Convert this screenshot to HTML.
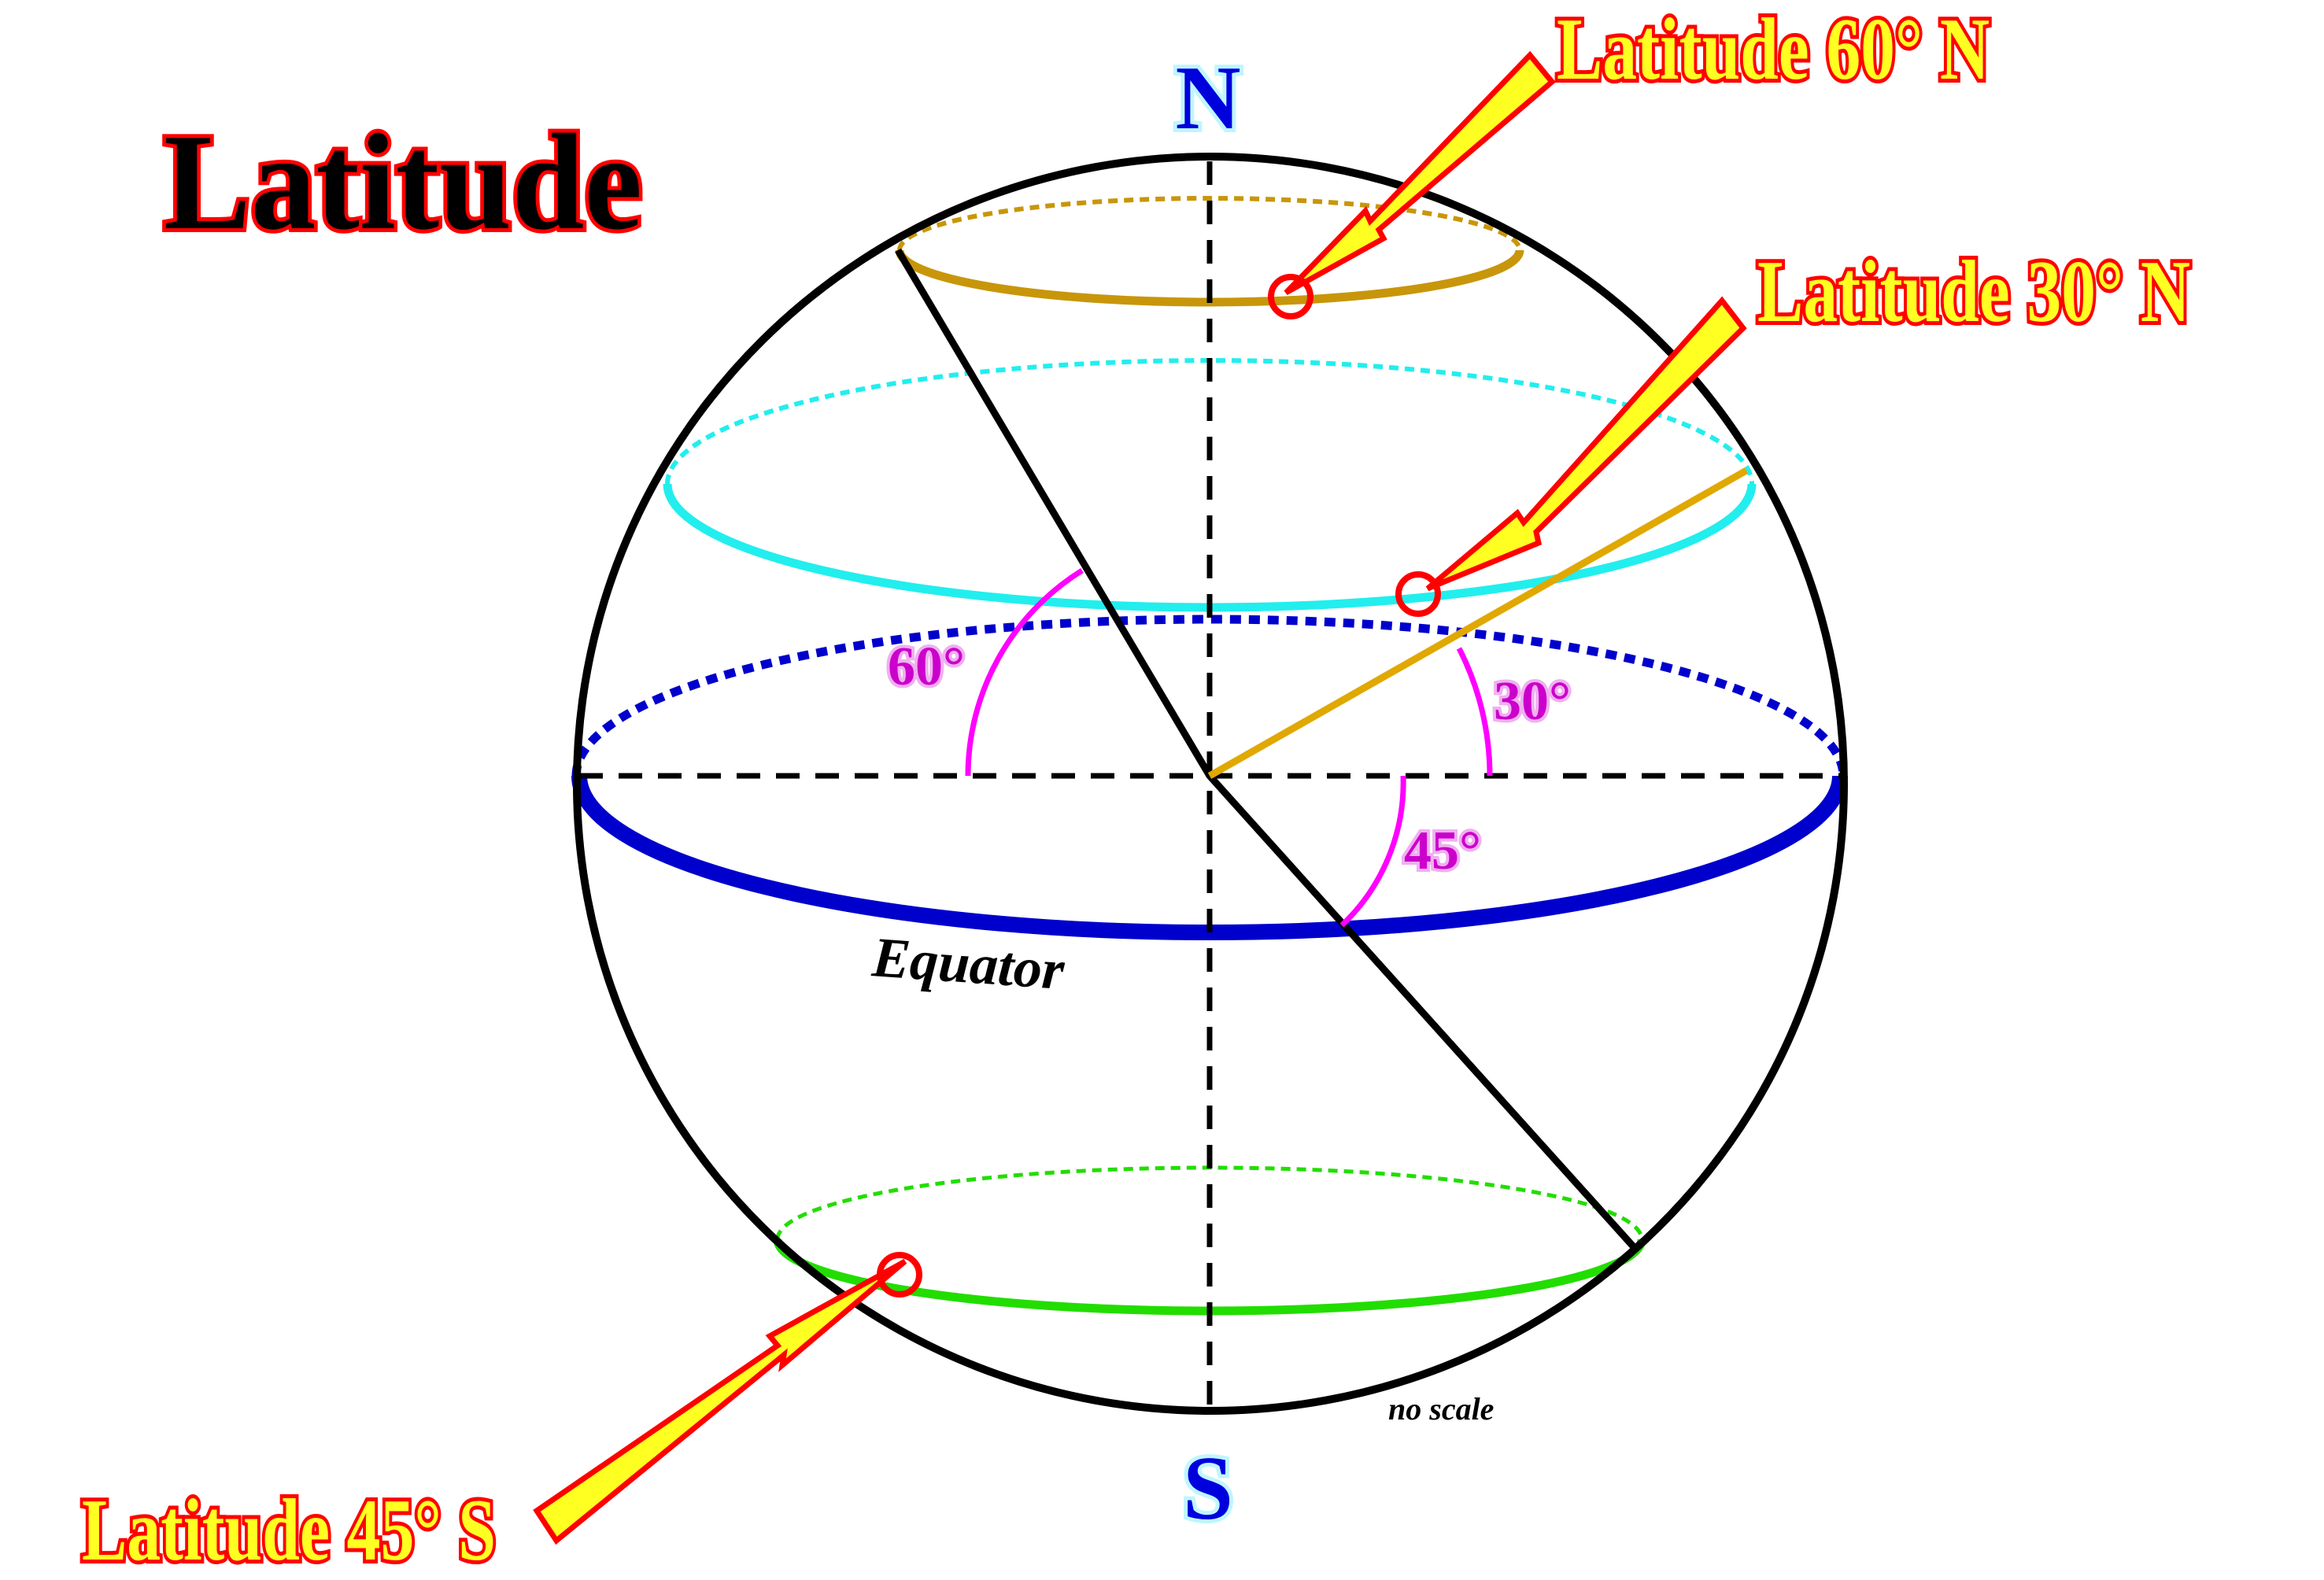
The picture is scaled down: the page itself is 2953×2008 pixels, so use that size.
<!DOCTYPE html>
<html><head><meta charset="utf-8"><style>
html,body{margin:0;padding:0;background:#fff;}
svg{display:block;}
text{font-family:"Liberation Serif",serif;font-weight:bold;}
</style></head><body>
<svg width="2953" height="2008" viewBox="0 0 2953 2008" xmlns="http://www.w3.org/2000/svg">
<path d="M1143,318 A394,66 0 0 1 1931,318" fill="none" stroke="#c8960a" stroke-width="6" stroke-dasharray="12,8"/>
<path d="M848,615 A689,157 0 0 1 2226,615" fill="none" stroke="#22eeee" stroke-width="6" stroke-dasharray="12,8"/>
<path d="M732,986 A805,199 0 0 1 2342,986" fill="none" stroke="#0000cc" stroke-width="11" stroke-dasharray="14,10"/>
<path d="M988,1575 A549,91 0 0 1 2086,1575" fill="none" stroke="#22dd00" stroke-width="5" stroke-dasharray="12,8"/>
<path d="M1143,318 A394,66 0 0 0 1931,318" fill="none" stroke="#c8960a" stroke-width="11"/>
<path d="M848,615 A689,157 0 0 0 2226,615" fill="none" stroke="#22eeee" stroke-width="11"/>
<path d="M736,986 A801,199 0 0 0 2338,986" fill="none" stroke="#0000cc" stroke-width="20"/>
<path d="M988,1575 A549,91 0 0 0 2086,1575" fill="none" stroke="#22dd00" stroke-width="11"/>
<ellipse cx="1538" cy="996" rx="805" ry="797" fill="none" stroke="#000" stroke-width="10"/>
<line x1="1537" y1="205" x2="1537" y2="1795" stroke="#000" stroke-width="7" stroke-dasharray="30,20"/>
<line x1="736" y1="986" x2="2340" y2="986" stroke="#000" stroke-width="7" stroke-dasharray="30,20"/>
<polyline points="1141,318 1537,986 2077,1586" fill="none" stroke="#000" stroke-width="9"/>
<line x1="1537" y1="986" x2="2219" y2="598" stroke="#e0a800" stroke-width="9"/>
<path d="M1230,986 A307,307 0 0 1 1375,725" fill="none" stroke="#ff00ff" stroke-width="7"/>
<path d="M1854,824 A356,356 0 0 1 1893,986" fill="none" stroke="#ff00ff" stroke-width="7"/>
<path d="M1783,986 A250,250 0 0 1 1705,1176" fill="none" stroke="#ff00ff" stroke-width="7"/>
<g font-size="70" fill="#cc00cc" stroke="#f0b0f0" stroke-width="8" paint-order="stroke">
<text x="1128" y="870">60°</text>
<text x="1898" y="914">30°</text>
<text x="1784" y="1104">45°</text>
</g>
<g fill="#ffff22" stroke="#ff0000" stroke-width="7" stroke-linejoin="miter">
<polygon points="1634,372 1735,268 1741,281 1944,70 1972,104 1752,292 1758,303"/>
<polygon points="1814,748 1928,652 1936,664 2188,382 2215,417 1952,676 1955,690"/>
<polygon points="1150,1603 978,1698 988,1710 682,1920 707,1958 996,1722 994,1735"/>
</g>
<g fill="none" stroke="#ff0000" stroke-width="8">
<circle cx="1640" cy="377" r="25"/>
<circle cx="1802" cy="755" r="25"/>
<circle cx="1143" cy="1620" r="25"/>
</g>
<g font-size="112" fill="#ffff22" stroke="#ff0000" stroke-width="10" paint-order="stroke">
<text x="1978" y="100" textLength="550" lengthAdjust="spacingAndGlyphs">Latitude 60° N</text>
<text x="2233" y="408" textLength="550" lengthAdjust="spacingAndGlyphs">Latitude 30° N</text>
<text x="104" y="1982" textLength="526" lengthAdjust="spacingAndGlyphs">Latitude 45° S</text>
</g>
<text x="208" y="290" font-size="175" fill="#000" stroke="#ff0000" stroke-width="10" paint-order="stroke" textLength="608" lengthAdjust="spacingAndGlyphs">Latitude</text>
<g font-size="115" fill="#0000dd" stroke="#bff6ff" stroke-width="10" paint-order="stroke" text-anchor="middle">
<text x="1535" y="163">N</text>
<text x="1535" y="1930">S</text>
</g>
<text x="1107" y="1240" font-size="72" font-style="italic" fill="#000" transform="rotate(4 1107 1240)">Equator</text>
<text x="1764" y="1804" font-size="40" font-style="italic" fill="#000">no scale</text>
</svg>
</body></html>
